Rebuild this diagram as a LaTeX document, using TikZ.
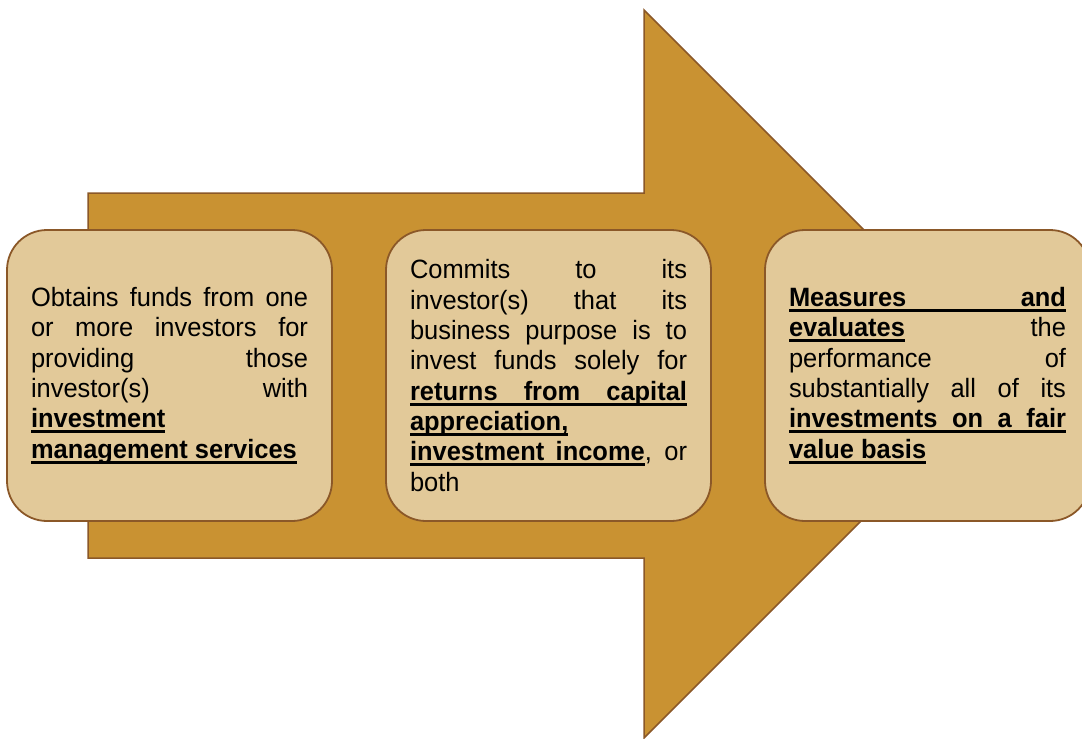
\documentclass[tikz,border=0pt]{standalone}
\usepackage{fontspec}
\setmainfont[FakeStretch=0.96]{Liberation Sans}
\usetikzlibrary{positioning}
\definecolor{arrowfill}{RGB}{201,146,50}
\definecolor{boxfill}{RGB}{226,201,153}
\definecolor{edge}{RGB}{139,88,40}
% thick underline that also runs under stretched spaces
\newcommand{\ulword}[1]{\setbox0\hbox{#1}\rlap{\rule[-5.5pt]{\wd0}{3pt}}\box0}
\newcommand{\ulsp}{\leaders\hrule height -2.5pt depth 5.5pt
  \hskip\fontdimen2\font plus\fontdimen3\font minus\fontdimen4\font}
\def\kwsplit#1 #2\kwend{\ulword{#1}%
  \if\relax\detokenize{#2}\relax\else\ulsp\kwsplit#2\kwend\fi}
\newcommand{\keyword}[1]{{\bfseries\kwsplit#1 \kwend}}

\begin{document}
\begin{tikzpicture}[x=1pt, y=-1pt,
  stepbox/.style={draw=edge, line width=1.8pt, fill=boxfill,
    rounded corners=40pt, minimum width=325pt, minimum height=291pt,
    inner xsep=24pt, text width=277pt, align=justify,
    font=\fontsize{26.5}{30.3}\selectfont},
  node distance=52.2pt]

  \useasboundingbox (0,0) rectangle (1082,739);

  % big arrow behind the boxes
  \fill[arrowfill, draw=edge, line width=1.5pt]
    (88,193) -- (644,193) -- (644,10) -- (1008,374)
    -- (644,738) -- (644,558) -- (88,558) -- cycle;

  \node[stepbox] (obtain) at (169.5,375.5)
    {Obtains funds from one\linebreak or more investors for\linebreak
     providing those\linebreak investor(s) with\linebreak
     \keyword{investment}\linebreak \keyword{management services}};
  \node[stepbox, right=of obtain] (commit)
    {Commits to its\linebreak investor(s) that its\linebreak
     business purpose is to\linebreak invest funds solely for\linebreak
     \keyword{returns from capital}\linebreak \keyword{appreciation,}\linebreak
     \keyword{investment income}, or\linebreak both};
  \node[stepbox, right=of commit] (measure)
    {\keyword{Measures and}\linebreak \keyword{evaluates} the\linebreak
     performance of\linebreak substantially all of its\linebreak
     \keyword{investments on a fair}\linebreak \keyword{value basis}};
\end{tikzpicture}
\end{document}
